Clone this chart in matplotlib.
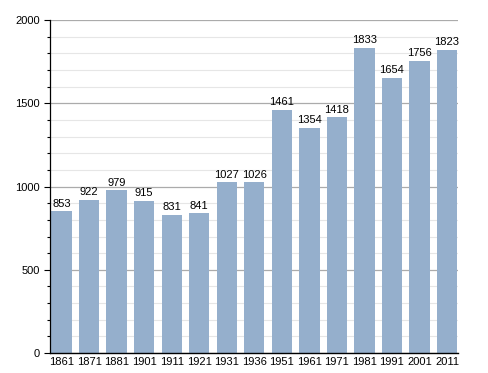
import matplotlib.pyplot as plt
from matplotlib.ticker import MultipleLocator

# census years and population
years = ["1861", "1871", "1881", "1901", "1911", "1921", "1931", "1936",
         "1951", "1961", "1971", "1981", "1991", "2001", "2011"]
population = [853, 922, 979, 915, 831, 841, 1027, 1026,
              1461, 1354, 1418, 1833, 1654, 1756, 1823]

fig = plt.figure(figsize=(4.88, 3.73), dpi=100)
ax = fig.add_axes([0.1025, 0.0536, 0.836, 0.8924])

x = range(len(years))
ax.bar(x, population, width=0.74, color="#95afcc", zorder=2)

for i, v in zip(x, population):
    ax.text(i, v + 15, str(v), ha="center", va="bottom", fontsize=8,
            family="Liberation Sans", zorder=3)

ax.set_ylim(0, 2000)
ax.set_xlim(-0.42, len(years) - 0.6)
ax.yaxis.set_major_locator(MultipleLocator(500))
ax.yaxis.set_minor_locator(MultipleLocator(100))
ax.grid(axis="y", which="major", color="#ababab", linewidth=0.9, zorder=0)
ax.grid(axis="y", which="minor", color="#e6e6e6", linewidth=0.8, zorder=0)

ax.set_xticks(list(x))
ax.set_xticklabels(years)
ax.tick_params(axis="x", length=0, pad=3)
ax.tick_params(axis="y", which="major", length=4, width=0.8)
ax.tick_params(axis="y", which="minor", length=2.5, width=0.8)
for lab in ax.get_xticklabels() + ax.get_yticklabels():
    lab.set_fontsize(8)
    lab.set_family("Liberation Sans")

ax.spines["top"].set_visible(False)
ax.spines["right"].set_visible(False)
ax.spines["left"].set_linewidth(0.9)
ax.spines["bottom"].set_linewidth(1.0)

fig.savefig("out.png", dpi=100)
